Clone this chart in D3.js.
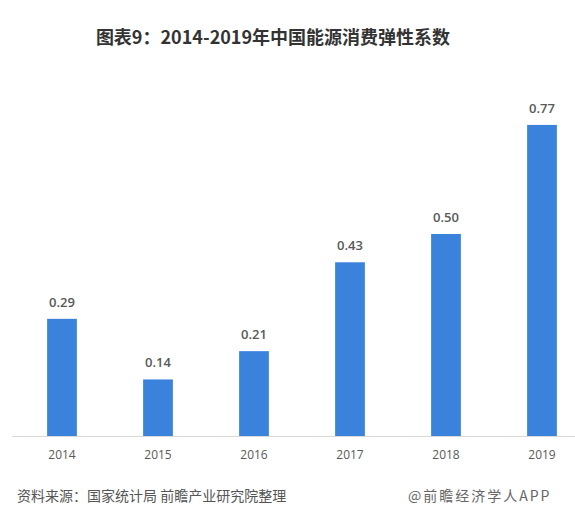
<!DOCTYPE html>
<html><head><meta charset="utf-8">
<script src="https://cdn.jsdelivr.net/npm/d3@7"></script>
<style>body{margin:0;background:#fff}svg{display:block}</style>
</head><body>
<svg id="c" width="575" height="508"></svg>
<script>
const years = ["2014","2015","2016","2017","2018","2019"];
const values = [0.29, 0.14, 0.21, 0.43, 0.50, 0.77];
const labels = ["0.29","0.14","0.21","0.43","0.50","0.77"];
const titleText = "图表9：2014-2019年中国能源消费弹性系数";
const sourceText = "资料来源：国家统计局 前瞻产业研究院整理";
const markText = "@前瞻经济学人APP";

const svg = d3.select("#c");
const base = 436;
const x = d3.scaleBand().domain(years).range([14, 590]).paddingInner(0.69).paddingOuter(0.345);
const y = d3.scaleLinear().domain([0, 1]).range([base, base - 404]);

svg.append("text").attr("x", 273).attr("y", 44).attr("text-anchor", "middle")
  .attr("font-family", "Noto Sans CJK SC").attr("font-weight", "bold").attr("font-size", 18)
  .attr("fill", "#333").text(titleText);

svg.selectAll("rect.bar").data(values).join("rect").attr("class","bar")
  .attr("x", (d,i) => x(years[i])).attr("width", x.bandwidth())
  .attr("y", d => y(d)).attr("height", d => base - y(d)).attr("fill", "#3b82dd");

svg.selectAll("text.val").data(values).join("text").attr("class","val")
  .attr("x", (d,i) => x(years[i]) + x.bandwidth()/2).attr("y", d => y(d) - 12)
  .attr("text-anchor","middle").attr("font-family","Open Sans").attr("font-size",13)
  .attr("font-weight",600).attr("fill","#595959").text((d,i) => labels[i]);

const ax = svg.append("g").attr("transform", `translate(0,${base})`)
  .call(d3.axisBottom(x).tickSize(0).tickPadding(14));
ax.select(".domain").attr("stroke","#d9d9d9").attr("d","M12,0.5H575");
ax.selectAll("text").attr("font-family","Open Sans").attr("font-size",12).attr("fill","#595959");

svg.append("text").attr("x", 17).attr("y", 501)
  .attr("font-family","Noto Sans CJK SC").attr("font-size",14).attr("fill","#555").text(sourceText);
svg.append("text").attr("x", 408).attr("y", 501)
  .attr("font-family","Noto Sans CJK SC").attr("font-size",14).attr("letter-spacing",2).attr("fill","#666").text(markText);
</script>
</body></html>
